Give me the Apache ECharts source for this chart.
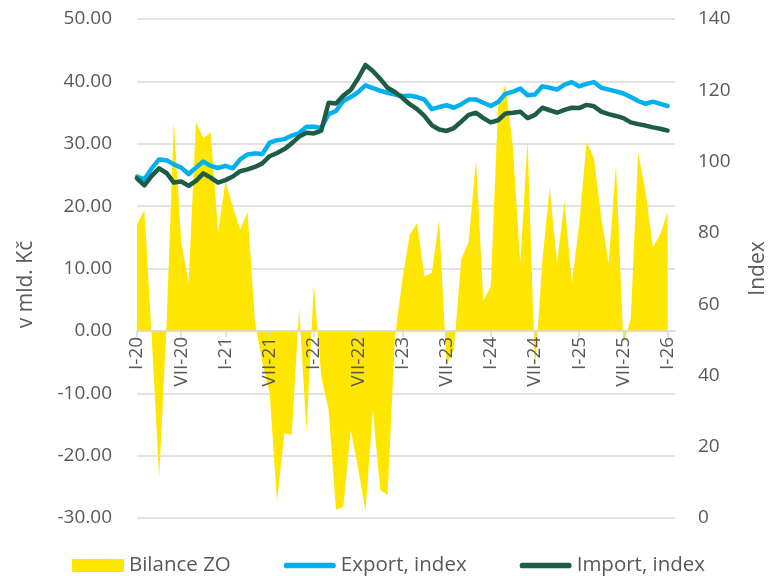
<!DOCTYPE html>
<html>
<head>
<meta charset="utf-8">
<script src="https://cdn.jsdelivr.net/npm/echarts@6/dist/echarts.min.js"></script>
<style>
    html, body { margin: 0; padding: 0; background: #fff; }
    #chart { width: 777px; height: 576px; }
</style>
</head>
<body>
<div id="chart"></div>
<script>
// mesice a roky pro popisky osy x (I-20 .. II-26)
var MONTHS = ['I', 'II', 'III', 'IV', 'V', 'VI', 'VII', 'VIII', 'IX', 'X', 'XI', 'XII'];
var YEARS = ['20', '21', '22', '23', '24', '25', '26'];

// bilance zahranicniho obchodu, mld. Kc (I-20 .. I-26)
var bilanceZO = [
    17.0, 19.4, -1.0, -23.6, 0.5, 33.5, 14.3, 7.7, 33.5, 30.9, 31.8, 15.9,
    23.9, 20.0, 16.2, 19.1, 1.5, -5.0, -10.0, -27.4, -16.4, -16.7, 3.6, -16.1,
    7.4, -7.3, -12.7, -28.7, -28.2, -15.9, -22.0, -29.0, -12.7, -25.5, -26.3, -1.0,
    8.2, 15.4, 17.3, 8.7, 9.3, 17.8, -5.5, -3.0, 11.5, 14.2, 27.5, 4.8,
    7.2, 36.0, 39.5, 29.5, 10.8, 30.6, -6.4, 11.2, 23.0, 10.8, 20.8, 7.7,
    17.1, 30.2, 27.7, 18.2, 10.8, 26.7, -2.1, 1.9, 28.6, 22.4, 13.4, 15.5,
    19.0
];

// cenove indexy vyvozu a dovozu
var exportIndex = [
    95.8, 95.0, 98.1, 100.6, 100.4, 99.2, 98.3, 96.5, 98.3, 100.0, 98.8, 98.2,
    98.8, 98.1, 100.6, 102.0, 102.3, 102.1, 105.3, 106.0, 106.3, 107.3, 108.0, 109.8,
    109.8, 109.4, 113.3, 114.2, 117.0, 118.1, 119.5, 121.4, 120.6, 119.9, 119.3, 118.8,
    118.4, 118.5, 118.1, 117.4, 114.7, 115.3, 115.8, 115.1, 116.1, 117.4, 117.4, 116.5,
    115.6, 116.7, 119.0, 119.6, 120.5, 118.6, 118.8, 121.1, 120.7, 120.2, 121.6, 122.3,
    121.1, 121.8, 122.3, 120.7, 120.2, 119.7, 119.1, 118.1, 117.0, 116.2, 116.8, 116.2,
    115.6
];
var importIndex = [
    95.3, 93.3, 96.0, 98.1, 96.8, 94.1, 94.4, 93.2, 94.6, 96.7, 95.5, 94.1,
    94.8, 95.8, 97.3, 97.8, 98.5, 99.5, 101.5, 102.4, 103.5, 105.1, 107.0, 108.1,
    107.9, 108.7, 116.5, 116.3, 118.5, 120.1, 123.3, 127.1, 125.4, 123.2, 120.7, 119.5,
    117.9, 116.1, 114.7, 112.8, 110.2, 109.0, 108.6, 109.4, 111.2, 113.1, 113.7, 112.2,
    111.0, 111.6, 113.5, 113.7, 114.0, 112.2, 113.1, 115.1, 114.4, 113.7, 114.5, 115.1,
    115.0, 115.9, 115.5, 114.0, 113.3, 112.8, 112.2, 111.0, 110.5, 110.1, 109.6, 109.2,
    108.7
];

var categories = [];
YEARS.forEach(function (year) {
    MONTHS.forEach(function (month) {
        if (categories.length < 74) {
            categories.push(month + '-' + year);
        }
    });
});

var FONT = '"Open Sans", sans-serif';
var TEXT_COLOR = '#595959';
var GRID_COLOR = '#D9D9D9';

var GRID_TOP = 19;
var GRID_BOTTOM = 58;
var LEFT_MIN = -30;
var LEFT_MAX = 50;

function showLabel(index) {
    return index % 6 === 0 && index <= 72;
}

// osa x lezi na nule leve osy (onZero ve v6 nefunguje se dvema osami y)
var plotHeight = 576 - GRID_TOP - GRID_BOTTOM;
var zeroOffset = -plotHeight * (0 - LEFT_MIN) / (LEFT_MAX - LEFT_MIN);

var option = {
    animation: false,
    textStyle: { fontFamily: FONT },
    grid: { left: 137, right: 95, top: GRID_TOP, bottom: GRID_BOTTOM },
    legend: {
        top: 550,
        left: 'center',
        itemWidth: 52,
        itemHeight: 13,
        itemGap: 53,
        textStyle: { color: TEXT_COLOR, fontSize: 20.5, fontFamily: FONT },
        data: [
            { name: 'Bilance ZO', icon: 'rect' },
            { name: 'Export, index', icon: 'path://M3,0 H52 A3,3 0 0 1 52,6 H3 A3,3 0 0 1 3,0 Z' },
            { name: 'Import, index', icon: 'path://M3,0 H52 A3,3 0 0 1 52,6 H3 A3,3 0 0 1 3,0 Z' }
        ]
    },
    xAxis: {
        type: 'category',
        data: categories,
        boundaryGap: false,
        position: 'bottom',
        offset: zeroOffset,
        z: 10,
        axisLine: { onZero: false, lineStyle: { color: GRID_COLOR, width: 1.5 } },
        axisTick: { interval: showLabel, length: 6, lineStyle: { color: GRID_COLOR, width: 1.5 } },
        axisLabel: {
            interval: showLabel,
            rotate: 90,
            margin: 6,
            color: TEXT_COLOR,
            fontSize: 19,
            fontFamily: FONT
        },
        splitLine: { show: false }
    },
    yAxis: [
        {
            type: 'value',
            min: LEFT_MIN,
            max: LEFT_MAX,
            interval: 10,
            name: 'v mld. Kč',
            nameLocation: 'middle',
            nameRotate: 90,
            nameGap: 100,
            nameTextStyle: { color: TEXT_COLOR, fontSize: 21, fontFamily: FONT, padding: [0, 32, 0, 0] },
            axisLine: { show: false },
            axisTick: { show: false },
            axisLabel: {
                color: TEXT_COLOR,
                fontSize: 19,
                fontFamily: FONT,
                margin: 25,
                formatter: function (v) { return v.toFixed(2); }
            },
            splitLine: { lineStyle: { color: GRID_COLOR, width: 1.5 } }
        },
        {
            type: 'value',
            min: 0,
            max: 140,
            interval: 20,
            name: 'Index',
            nameLocation: 'middle',
            nameRotate: 90,
            nameGap: 73,
            nameTextStyle: { color: TEXT_COLOR, fontSize: 21, fontFamily: FONT },
            axisLine: { show: false },
            axisTick: { show: false },
            axisLabel: { color: TEXT_COLOR, fontSize: 19, fontFamily: FONT, margin: 23 },
            splitLine: { show: false }
        }
    ],
    series: [
        {
            name: 'Bilance ZO',
            type: 'line',
            yAxisIndex: 0,
            data: bilanceZO,
            showSymbol: false,
            lineStyle: { width: 0 },
            itemStyle: { color: '#FFE600' },
            areaStyle: { color: '#FFE600', opacity: 1, origin: 0 }
        },
        {
            name: 'Export, index',
            type: 'line',
            yAxisIndex: 1,
            data: exportIndex,
            showSymbol: false,
            lineStyle: { width: 4.5, color: '#00B0F0', cap: 'round', join: 'round' },
            itemStyle: { color: '#00B0F0' }
        },
        {
            name: 'Import, index',
            type: 'line',
            yAxisIndex: 1,
            data: importIndex,
            showSymbol: false,
            lineStyle: { width: 4.5, color: '#1E5C45', cap: 'round', join: 'round' },
            itemStyle: { color: '#1E5C45' }
        }
    ]
};

var chart = echarts.init(document.getElementById('chart'));
chart.setOption(option);
</script>
</body>
</html>
